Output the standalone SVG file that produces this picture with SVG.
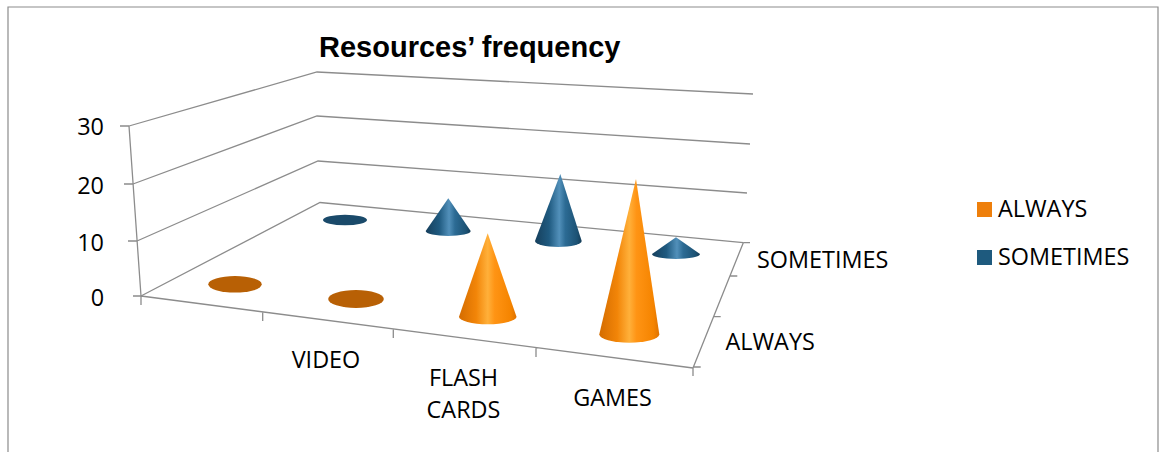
<svg xmlns="http://www.w3.org/2000/svg" width="1159" height="452" viewBox="0 0 1159 452">
<defs>
<linearGradient id="gOr" x1="0" y1="0" x2="1" y2="0">
<stop offset="0" stop-color="#D46C00"/>
<stop offset="0.3" stop-color="#F28508"/>
<stop offset="0.5" stop-color="#FFB03A"/>
<stop offset="0.62" stop-color="#FF9414"/>
<stop offset="0.9" stop-color="#F58400"/>
<stop offset="1" stop-color="#DE7200"/>
</linearGradient>
<linearGradient id="gBl" x1="0" y1="0" x2="1" y2="0">
<stop offset="0" stop-color="#163F5C"/>
<stop offset="0.3" stop-color="#1F5A80"/>
<stop offset="0.52" stop-color="#5290BA"/>
<stop offset="0.65" stop-color="#2C6B94"/>
<stop offset="0.9" stop-color="#1C5274"/>
<stop offset="1" stop-color="#143C57"/>
</linearGradient>
<style>
.g{stroke:#8C8C8C;stroke-width:1.3;fill:none}
.t{font-family:"Open Sans","Liberation Sans",sans-serif;font-size:23.4px;fill:#000}
.title{font-family:"Liberation Sans",Arial,sans-serif;font-size:29px;font-weight:bold;fill:#000}
.or{fill:url(#gOr)}
.bl{fill:url(#gBl)}
</style>
</defs>
<rect x="0" y="0" width="1159" height="452" fill="#fff"/>
<path d="M8 452V7H1158V452" fill="none" stroke="#8C8C8C" stroke-width="1.2"/>
<text class="title" x="319" y="57">Resources’ frequency</text>
<g id="gridlines">
<path class="g" d="M129 126L317 72L753 94M133 184L317 116L750 144M137 241L318 161L747 193M141 296L320 202.5L743.3 242.7"/>
</g>
<g id="axes">
<path class="g" d="M129 126L141 296M120 126H129M124 184H133M128 241H137M133 296H141"/>
<path class="g" d="M141 296L693 368M141 296V305M262.7 312V321M393.3 329V338M536 348V357M693 368V376"/>
<path class="g" d="M693 368L743.3 242.7M743.3 242.7H750M730.5 276H737.3M714 316.7H720.7M693 367H700.7"/>
</g>
<g id="axis-labels">
<text class="t" x="104" y="135" text-anchor="end">30</text>
<text class="t" x="104" y="194" text-anchor="end">20</text>
<text class="t" x="104" y="251" text-anchor="end">10</text>
<text class="t" x="104" y="306" text-anchor="end">0</text>
<text class="t" x="326" y="368" text-anchor="middle">VIDEO</text>
<text class="t" x="463.5" y="386" text-anchor="middle">FLASH</text>
<text class="t" x="463.5" y="418" text-anchor="middle">CARDS</text>
<text class="t" x="612.5" y="406" text-anchor="middle">GAMES</text>
<text class="t" x="757" y="268">SOMETIMES</text>
<text class="t" x="725.5" y="350">ALWAYS</text>
</g>
<g id="series-sometimes">
<ellipse cx="345" cy="220" rx="22" ry="5.3" fill="#1A4A6A"/>
<path class="bl" d="M425.7 231L448.3 198.3L470.7 231A22.5 5 0 0 1 425.7 231Z"/>
<path class="bl" d="M535 241L560.3 174L581.7 241A23.35 6 0 0 1 535 241Z"/>
<path class="bl" d="M652 254L676 237.3L700 254A24 5 0 0 1 652 254Z"/>
</g>
<g id="series-always">
<ellipse cx="235" cy="284.3" rx="26.7" ry="8.3" fill="#B86005"/>
<ellipse cx="356" cy="299" rx="27.8" ry="9" fill="#B86005"/>
<path class="or" d="M459 316.7L487.7 233.3L516.5 316.7A28.75 7.6 0 0 1 459 316.7Z"/>
<path class="or" d="M599.3 334.3L636 179L659.3 334.3A30 8.4 0 0 1 599.3 334.3Z"/>
</g>
<g id="legend">
<rect x="977" y="202" width="15" height="15" fill="#EE7F0B"/>
<text class="t" x="998" y="217.3">ALWAYS</text>
<rect x="977" y="250" width="15" height="15" fill="#1E5A7E"/>
<text class="t" x="998" y="265">SOMETIMES</text>
</g>
</svg>
